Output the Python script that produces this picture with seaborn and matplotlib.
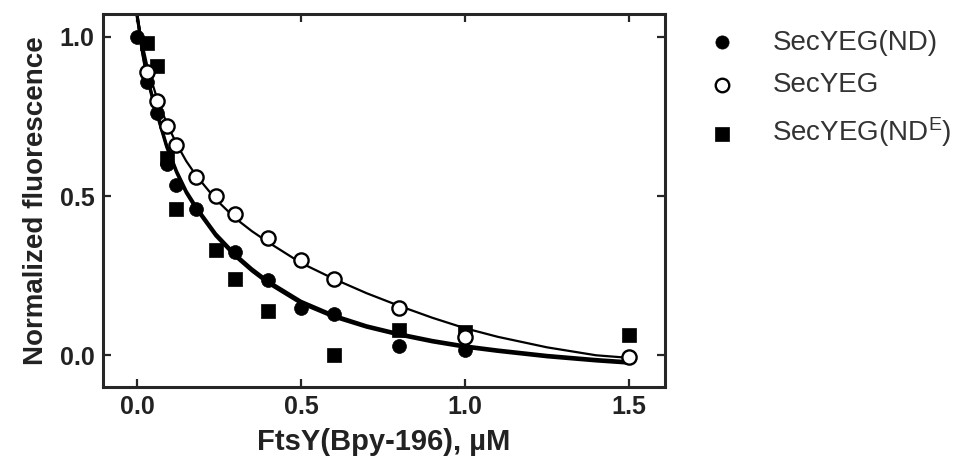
import numpy as np
import pandas as pd
import matplotlib
matplotlib.use("Agg")
import matplotlib.pyplot as plt
import seaborn as sns

# ---- data ----
nd_x = [0.0, 0.03, 0.06, 0.09, 0.12, 0.18, 0.30, 0.40, 0.50, 0.60, 0.80, 1.00]
nd_y = [1.00, 0.86, 0.76, 0.60, 0.535, 0.46, 0.325, 0.235, 0.148, 0.13, 0.03, 0.016]

sec_x = [0.03, 0.06, 0.09, 0.12, 0.18, 0.24, 0.30, 0.40, 0.50, 0.60, 0.80, 1.00, 1.50]
sec_y = [0.89, 0.80, 0.72, 0.66, 0.56, 0.50, 0.445, 0.37, 0.30, 0.24, 0.148, 0.057, -0.005]

nde_x = [0.03, 0.06, 0.09, 0.12, 0.24, 0.30, 0.40, 0.60, 0.80, 1.00, 1.50]
nde_y = [0.98, 0.91, 0.62, 0.46, 0.33, 0.24, 0.14, 0.00, 0.08, 0.074, 0.063]

# fitted curves
fit_x = [0.0, 0.015, 0.03, 0.045, 0.06, 0.09, 0.12, 0.15, 0.18, 0.24, 0.30, 0.35, 0.40, 0.50, 0.60, 0.70,
         0.80, 0.90, 1.00, 1.10, 1.25, 1.40, 1.50]
fit_nd_y = [1.07, 0.96, 0.875, 0.815, 0.76, 0.655, 0.575, 0.51, 0.46, 0.375, 0.31, 0.265, 0.226, 0.163,
            0.12, 0.088, 0.063, 0.042, 0.025, 0.012, -0.005, -0.018, -0.025]
fit_nde_y = [1.07, 0.965, 0.88, 0.82, 0.765, 0.66, 0.58, 0.516, 0.467, 0.382, 0.317, 0.272, 0.233, 0.17,
             0.126, 0.093, 0.068, 0.047, 0.03, 0.017, 0.0, -0.013, -0.02]
fit_sec_y = [1.07, 0.985, 0.915, 0.86, 0.81, 0.73, 0.665, 0.61, 0.565, 0.49, 0.43, 0.39, 0.355, 0.29,
             0.24, 0.195, 0.155, 0.118, 0.085, 0.058, 0.025, 0.0, -0.008]

labels = ["SecYEG(ND)", "SecYEG", r"SecYEG(ND$^\mathregular{E}$)"]
xticks = [0.0, 0.5, 1.0, 1.5]
yticks = [0.0, 0.5, 1.0]

sns.set_style("ticks")
plt.rcParams["font.family"] = ["Liberation Sans", "DejaVu Sans"]
plt.rcParams["mathtext.default"] = "regular"

fig = plt.figure(figsize=(9.71, 4.67), dpi=100)
ax = fig.add_axes([0.106, 0.171, 0.579, 0.799])

lw_thick = 2.2
sns.lineplot(x=fit_x, y=fit_nd_y, ax=ax, color="black", lw=lw_thick, sort=False, estimator=None, legend=False)
sns.lineplot(x=fit_x, y=fit_nde_y, ax=ax, color="black", lw=lw_thick, sort=False, estimator=None, legend=False)
sns.lineplot(x=fit_x, y=fit_sec_y, ax=ax, color="black", lw=1.6, sort=False, estimator=None, legend=False)

h1 = ax.scatter(nd_x, nd_y, s=100, marker="o", c="black", edgecolors="black", linewidths=0.5, zorder=4, label=labels[0])
h2 = ax.scatter(sec_x, sec_y, s=105, marker="o", c="white", edgecolors="black", linewidths=1.7, zorder=5, label=labels[1])
h3 = ax.scatter(nde_x, nde_y, s=115, marker="s", c="black", edgecolors="black", linewidths=0.5, zorder=4, label=labels[2])

ax.set_xlim(-0.104, 1.61)
ax.set_ylim(-0.10, 1.072)
ax.set_xticks(xticks)
ax.set_xticklabels([f"{v:.1f}" for v in xticks])
ax.set_yticks(yticks)
ax.set_yticklabels([f"{v:.1f}" for v in yticks])

ax.tick_params(direction="in", length=6, width=1.6, top=True, right=True,
               labelsize=18, pad=6)
for lab in ax.get_xticklabels() + ax.get_yticklabels():
    lab.set_fontweight("bold")
    lab.set_color("#222222")
for sp in ax.spines.values():
    sp.set_linewidth(2.2)
    sp.set_visible(True)

ax.set_xlabel("FtsY(Bpy-196), µM", fontsize=21, fontweight="bold", color="#222222", labelpad=6)
ax.set_ylabel("Normalized fluorescence", fontsize=20, fontweight="bold", color="#222222", labelpad=8)

leg = fig.legend(handles=[h1, h2, h3], labels=labels, loc="upper left",
                 bbox_to_anchor=(0.704, 0.99), frameon=False, fontsize=20,
                 handletextpad=1.3, labelspacing=0.60, markerscale=0.95,
                 handlelength=1.0)
for t in leg.get_texts():
    t.set_color("#333333")

fig.savefig("out.png", dpi=100, facecolor="white")
